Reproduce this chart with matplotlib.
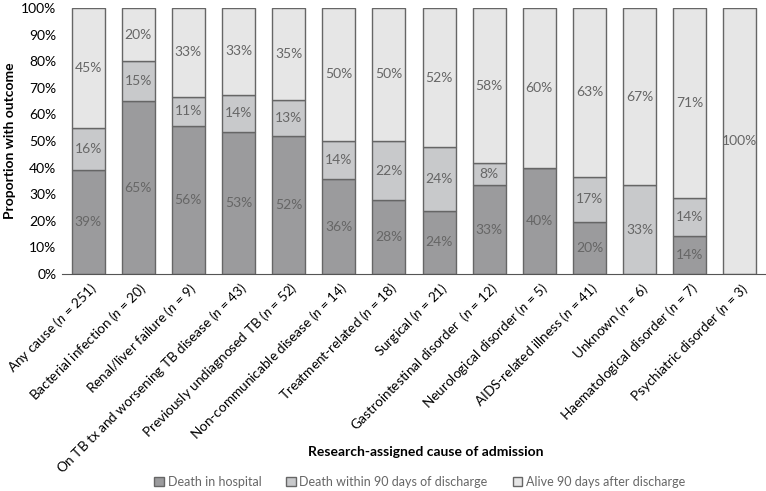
import matplotlib
matplotlib.use("Agg")
import matplotlib.pyplot as plt
import numpy as np

plt.rcParams["font.family"] = ["Lato", "DejaVu Sans"]
plt.rcParams["mathtext.fontset"] = "custom"
plt.rcParams["mathtext.it"] = "Lato:italic"
plt.rcParams["mathtext.rm"] = "Lato"

causes = [
    "Any cause", "Bacterial infection", "Renal/liver failure",
    "On TB tx and worsening TB disease", "Previously undiagnosed TB",
    "Non-communicable disease", "Treatment-related", "Surgical",
    "Gastrointestinal disorder ", "Neurological disorder", "AIDS-related illness",
    "Unknown", "Haematological disorder", "Psychiatric disorder",
]
counts = [251, 20, 9, 43, 52, 14, 18, 21, 12, 5, 41, 6, 7, 3]
death_hosp = [39.0, 65.0, 55.6, 53.4, 51.9, 35.7, 27.8, 23.8, 33.3, 40.0, 19.5, 0.0, 14.3, 0.0]
death_90 = [15.9, 15.0, 11.1, 14.0, 13.4, 14.3, 22.2, 23.8, 8.3, 0.0, 17.1, 33.3, 14.3, 0.0]
alive_90 = [45.1, 20.0, 33.3, 32.6, 34.7, 50.0, 50.0, 52.4, 58.4, 60.0, 63.4, 66.7, 71.4, 100.0]

series = [
    ("Death in hospital", death_hosp, "#9b9b9d"),
    ("Death within 90 days of discharge", death_90, "#c8c9cb"),
    ("Alive 90 days after discharge", alive_90, "#e6e6e6"),
]

fig = plt.figure(figsize=(7.66, 4.91), dpi=100)
ax = fig.add_axes([62 / 766, 1 - 274 / 491, 703 / 766, 266 / 491])

x = np.arange(len(causes))
bottom = np.zeros(len(causes))
for name, vals, color in series:
    vals = np.array(vals, dtype=float)
    ax.bar(x, vals, 0.66, bottom=bottom, color=color, edgecolor="#666666",
           linewidth=1.0, label=name)
    for xi, b, v in zip(x, bottom, vals):
        if v > 0:
            ax.text(xi, b + v / 2, f"{v:.0f}%", ha="center", va="center",
                    fontsize=10, color="#666666")
    bottom += vals

ax.set_xlim(-0.52, 13.5)
ax.set_ylim(0, 100)
ax.set_yticks(np.arange(0, 101, 10))
ax.set_yticklabels([f"{v}%" for v in range(0, 101, 10)], fontsize=10)
ax.set_xticks(x)
ax.set_xticklabels([f"{c} ($n$ = {n})" for c, n in zip(causes, counts)],
                   rotation=45, ha="right", rotation_mode="anchor", fontsize=9.8)
ax.tick_params(length=0, pad=4)
for s in ["top", "right", "left"]:
    ax.spines[s].set_visible(False)
ax.spines["bottom"].set_color("#555555")

ax.set_ylabel("Proportion with outcome", fontsize=10, fontweight="bold")
fig.text(0.556, 1 - 452 / 491, "Research-assigned cause of admission",
         ha="center", va="center", fontsize=10, fontweight="bold")

fig.legend(loc="center", bbox_to_anchor=(0.548, 1 - 482 / 491), ncol=3,
           frameon=False, fontsize=9, handlelength=0.75, handleheight=0.75,
           handletextpad=0.3, columnspacing=2.0, labelcolor="#666666")

fig.savefig("out.png", dpi=100)
